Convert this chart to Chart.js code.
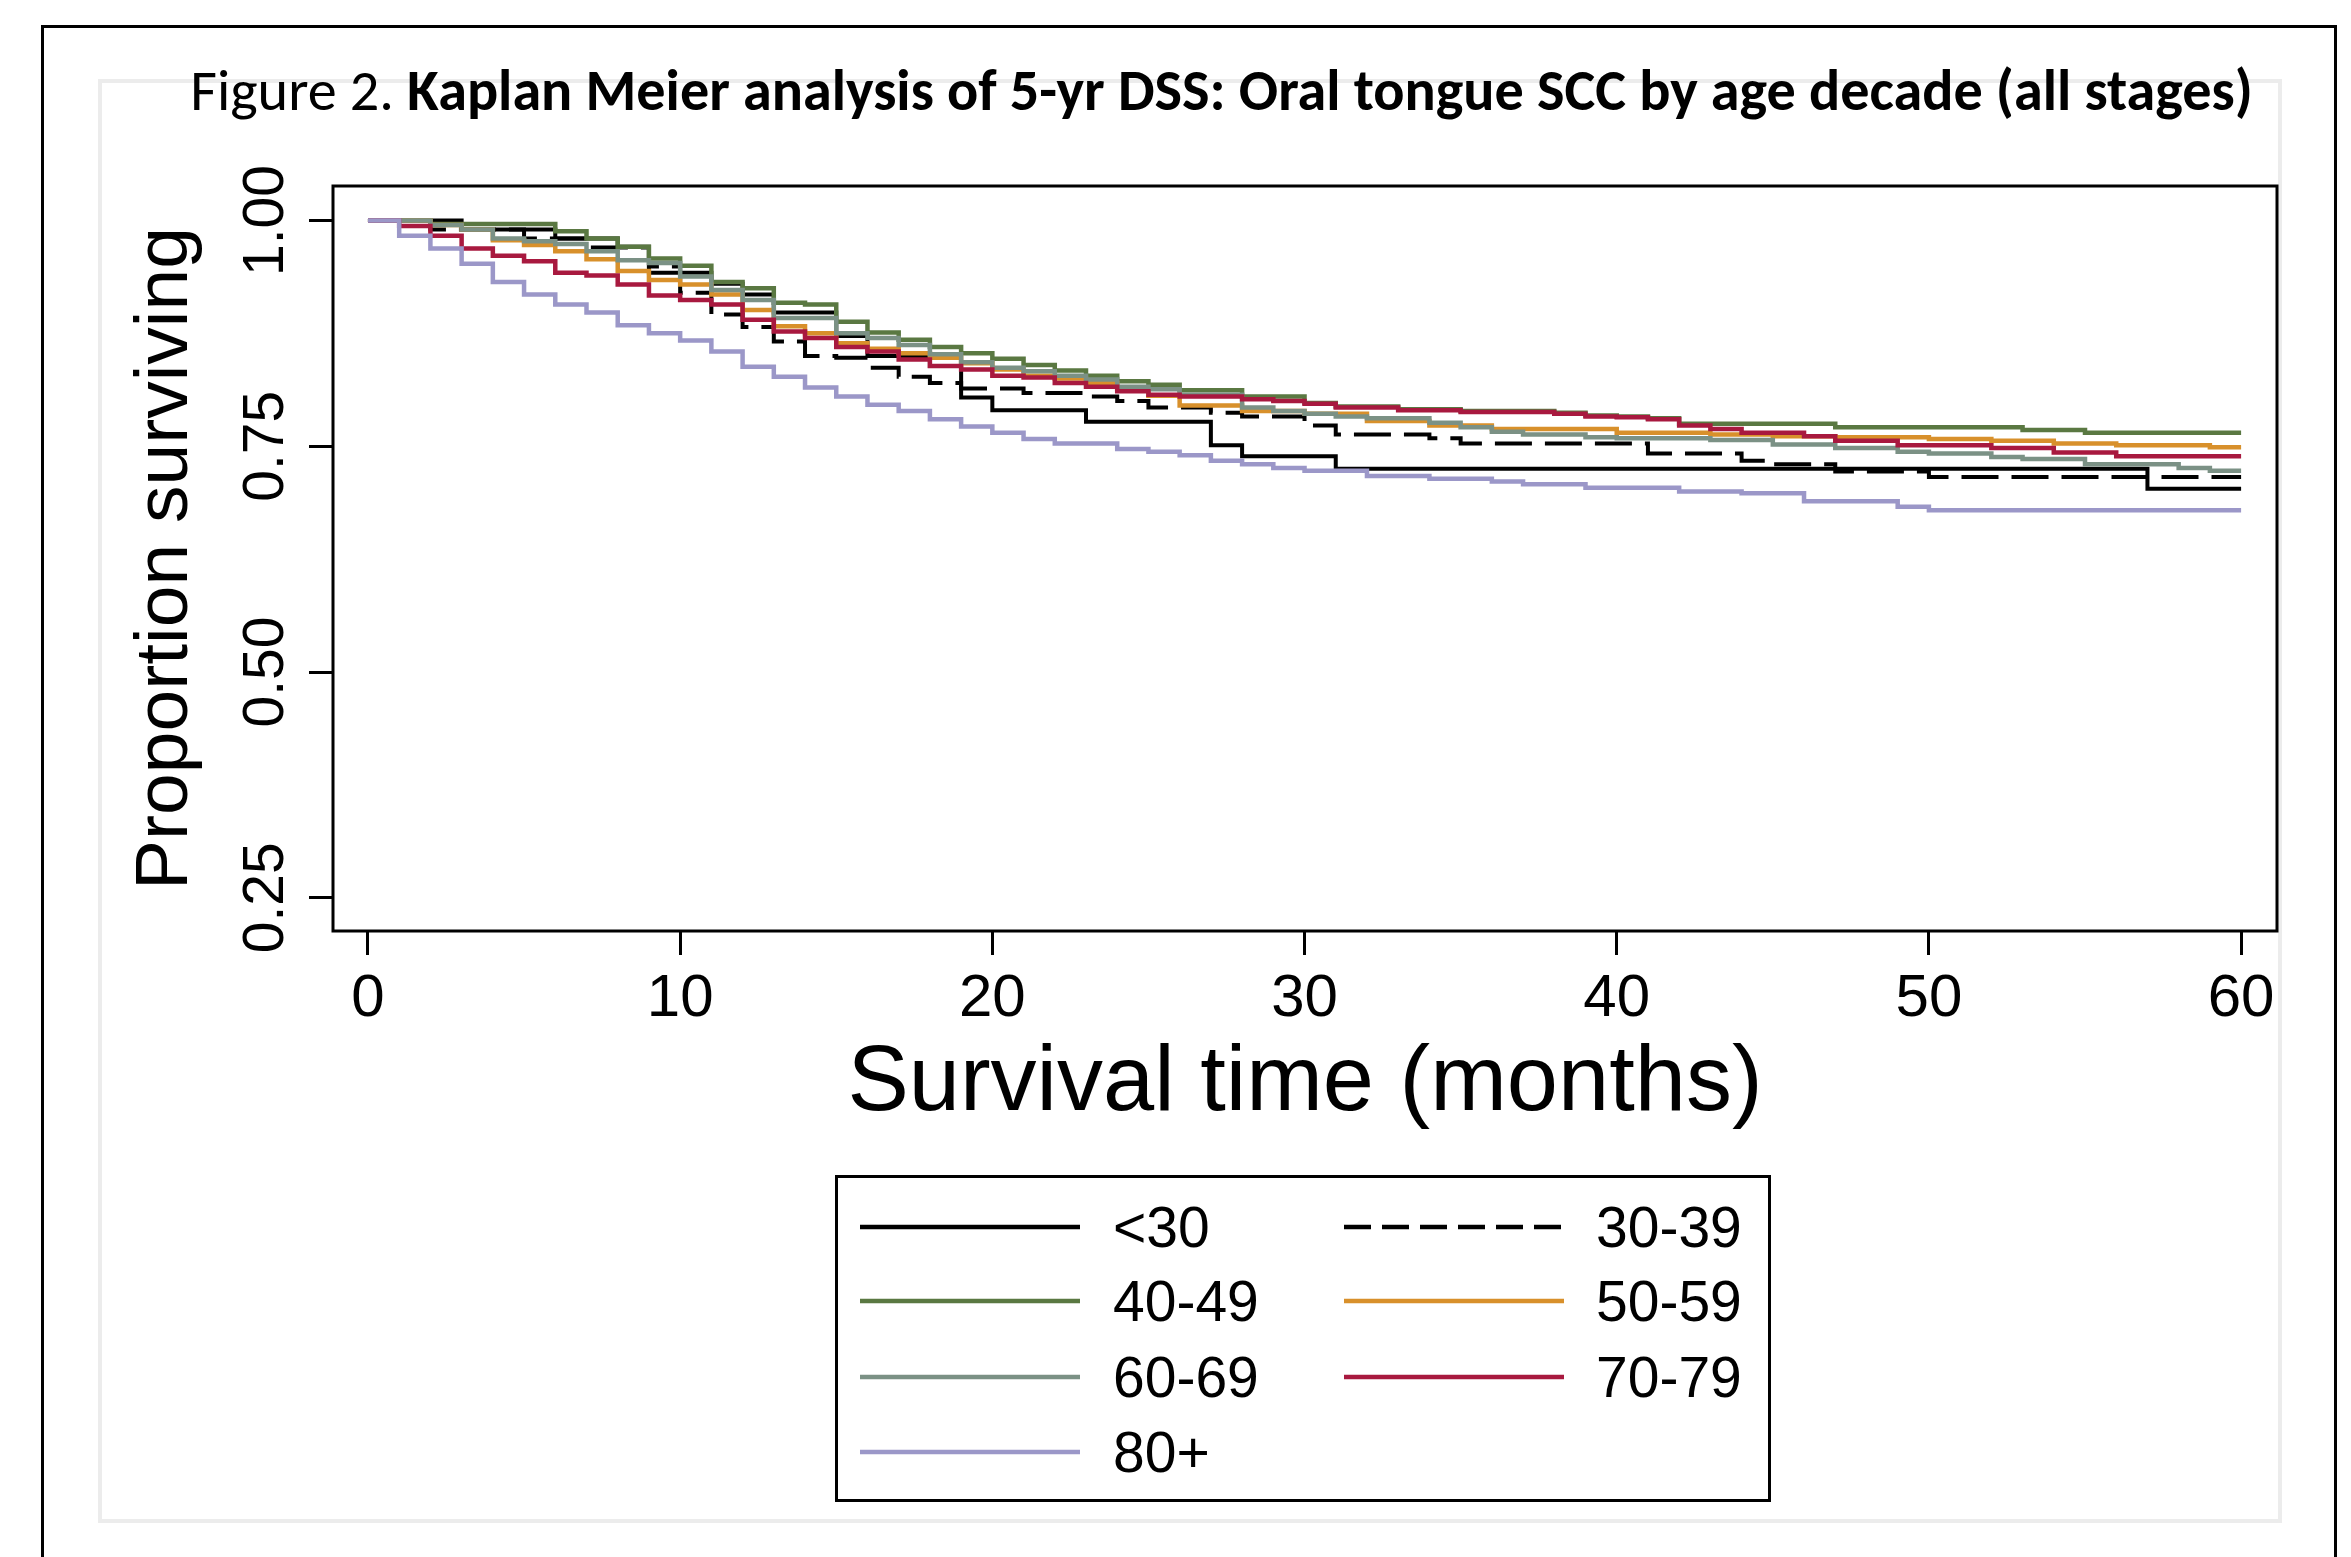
<!DOCTYPE html>
<html>
<head>
<meta charset="utf-8">
<script src="https://cdn.jsdelivr.net/npm/chart.js@4.4.1/dist/chart.umd.min.js"></script>
<style>
html,body{margin:0;padding:0;background:#fff;}
body{width:2351px;height:1557px;position:relative;overflow:hidden;}
#outer{position:absolute;left:41px;top:25px;width:2296px;height:1600px;border:3px solid #000;box-sizing:border-box;}
#panel{position:absolute;left:98px;top:79px;width:2184px;height:1444px;border:4px solid #ececec;box-sizing:border-box;background:#fff;}
#c{position:absolute;left:0;top:0;}
#title{position:absolute;left:0;top:0;white-space:nowrap;font-family:Carlito,Calibri,Lato,"Open Sans",sans-serif;color:#000;font-size:50px;line-height:1.2;}
#legend{position:absolute;left:835px;top:1175px;width:936px;height:327px;border:3px solid #000;box-sizing:border-box;background:#fff;}
#legend svg{position:absolute;left:0;top:0;}
.lg-item{position:absolute;font-family:"Liberation Sans",Arial,sans-serif;font-size:57px;line-height:57px;color:#000;white-space:nowrap;}
</style>
</head>
<body>
<div id="outer"></div>
<div id="panel"></div>
<canvas id="c" width="2351" height="1557" style="width:2351px;height:1557px;"></canvas>
<div id="title"><span style="font-weight:400">Figure 2. </span><span style="font-weight:700">Kaplan Meier analysis of 5-yr DSS: Oral tongue SCC by age decade (all stages)</span></div>
<div id="legend"></div>
<script>
// ---------- data ----------
const seriesNames = ['<30', '30-39', '40-49', '50-59', '60-69', '70-79', '80+'];

const monthsLt30 = [0, 3, 6, 8, 9, 11, 12, 13, 15, 16, 18, 19, 20, 23, 27, 28, 31, 57, 60];
const survLt30   = [1, 0.990, 0.980, 0.971, 0.942, 0.930, 0.918, 0.898, 0.872, 0.850, 0.839, 0.804, 0.790, 0.777, 0.751, 0.739, 0.725, 0.703, 0.703];

const months30s = [0, 2, 5, 7, 9, 10, 11, 12, 13, 14, 15, 16, 17, 18, 19, 21, 23, 24, 25, 27, 28, 30, 31, 34, 35, 41, 44, 45, 47, 50, 60];
const surv30s   = [1, 0.990, 0.980, 0.970, 0.949, 0.920, 0.896, 0.882, 0.866, 0.850, 0.848, 0.837, 0.827, 0.820, 0.814, 0.809, 0.805, 0.800, 0.793, 0.787, 0.783, 0.773, 0.763, 0.759, 0.753, 0.742, 0.734, 0.730, 0.722, 0.716, 0.716];

const months40s = [0, 2, 6, 7, 8, 9, 10, 11, 12, 13, 14, 15, 16, 17, 18, 19, 20, 21, 22, 23, 24, 25, 26, 28, 30, 31, 33, 35, 38, 39, 40, 41, 42, 47, 53, 55, 60];
const surv40s   = [1, 0.996, 0.988, 0.980, 0.971, 0.958, 0.950, 0.932, 0.925, 0.909, 0.907, 0.888, 0.876, 0.868, 0.860, 0.853, 0.847, 0.840, 0.834, 0.828, 0.822, 0.818, 0.812, 0.805, 0.798, 0.794, 0.791, 0.789, 0.787, 0.784, 0.783, 0.781, 0.775, 0.771, 0.768, 0.765, 0.765];

const months50s = [0, 2, 3, 4, 5, 6, 7, 8, 9, 10, 11, 12, 13, 14, 15, 16, 17, 18, 19, 20, 21, 22, 23, 24, 25, 26, 28, 30, 32, 34, 36, 40, 43, 45, 47, 50, 52, 54, 56, 59, 60];
const surv50s   = [1, 0.995, 0.990, 0.978, 0.973, 0.966, 0.957, 0.944, 0.934, 0.929, 0.918, 0.901, 0.883, 0.875, 0.864, 0.858, 0.853, 0.848, 0.842, 0.835, 0.828, 0.825, 0.820, 0.813, 0.806, 0.795, 0.789, 0.786, 0.778, 0.773, 0.769, 0.765, 0.763, 0.761, 0.760, 0.758, 0.756, 0.753, 0.751, 0.749, 0.749];

const months60s = [0, 2, 3, 4, 5, 6, 7, 8, 9, 10, 11, 12, 13, 15, 16, 17, 18, 19, 20, 21, 22, 23, 24, 25, 26, 28, 29, 30, 31, 32, 34, 35, 36, 37, 39, 40, 43, 45, 47, 49, 50, 52, 53, 55, 58, 59, 60];
const surv60s   = [1, 0.995, 0.990, 0.980, 0.977, 0.974, 0.966, 0.956, 0.953, 0.938, 0.923, 0.912, 0.892, 0.875, 0.870, 0.862, 0.852, 0.843, 0.837, 0.833, 0.828, 0.824, 0.816, 0.813, 0.807, 0.793, 0.789, 0.786, 0.783, 0.781, 0.776, 0.771, 0.766, 0.763, 0.760, 0.759, 0.757, 0.752, 0.748, 0.744, 0.742, 0.738, 0.736, 0.730, 0.726, 0.723, 0.723];

const months70s = [0, 1, 2, 3, 4, 5, 6, 7, 8, 9, 10, 11, 12, 13, 14, 15, 16, 17, 18, 19, 20, 21, 22, 23, 24, 25, 26, 28, 29, 30, 31, 33, 35, 38, 39, 40, 41, 42, 43, 44, 46, 47, 49, 52, 54, 56, 60];
const surv70s   = [1, 0.994, 0.983, 0.969, 0.961, 0.955, 0.942, 0.939, 0.929, 0.917, 0.912, 0.907, 0.890, 0.877, 0.870, 0.860, 0.855, 0.846, 0.839, 0.835, 0.828, 0.826, 0.820, 0.816, 0.811, 0.807, 0.805, 0.802, 0.800, 0.797, 0.793, 0.790, 0.788, 0.786, 0.783, 0.782, 0.780, 0.773, 0.769, 0.765, 0.761, 0.756, 0.751, 0.748, 0.743, 0.739, 0.739];

const months80 = [0, 1, 2, 3, 4, 5, 6, 7, 8, 9, 10, 11, 12, 13, 14, 15, 16, 17, 18, 19, 20, 21, 22, 24, 25, 26, 27, 28, 29, 30, 32, 34, 36, 37, 39, 42, 44, 46, 49, 50, 60];
const surv80   = [1, 0.983, 0.969, 0.952, 0.932, 0.918, 0.907, 0.898, 0.884, 0.875, 0.867, 0.855, 0.838, 0.827, 0.815, 0.805, 0.796, 0.789, 0.780, 0.772, 0.765, 0.758, 0.753, 0.747, 0.744, 0.740, 0.734, 0.730, 0.726, 0.723, 0.717, 0.714, 0.711, 0.708, 0.704, 0.700, 0.698, 0.689, 0.683, 0.679, 0.679];

const xTickValues = [0, 10, 20, 30, 40, 50, 60];
const yTickValues = [0.25, 0.50, 0.75, 1.00];

// ---------- styles ----------
const seriesMonths = [monthsLt30, months30s, months40s, months50s, months60s, months70s, months80];
const seriesSurv   = [survLt30, surv30s, surv40s, surv50s, surv60s, surv70s, surv80];
const seriesColors = ['#000000', '#000000', '#5a7842', '#d8902b', '#7b9185', '#a8193f', '#9b97c8'];
const seriesDash   = [[], [37, 13], [], [], [], [], []];
const legendDash   = [[], [27, 11], [], [], [], [], []];
const seriesWidth  = [4, 4, 4.5, 4.5, 4.5, 4.5, 4.5];

const datasets = seriesNames.map((name, i) => ({
  label: name,
  data: seriesMonths[i].map((m, j) => ({ x: m, y: seriesSurv[i][j] })),
  borderColor: seriesColors[i],
  backgroundColor: seriesColors[i],
  borderWidth: seriesWidth[i],
  borderDash: seriesDash[i],
  stepped: true,
  pointRadius: 0,
  fill: false,
  order: seriesNames.length - i
}));

const framePlugin = {
  id: 'frame',
  afterDatasetsDraw(chart) {
    const { ctx, chartArea: a } = chart;
    ctx.save();
    ctx.strokeStyle = '#000';
    ctx.lineWidth = 3;
    ctx.setLineDash([]);
    ctx.strokeRect(a.left, a.top, a.right - a.left, a.bottom - a.top);
    ctx.restore();
  }
};

const axisFont = '"Liberation Sans", Arial, sans-serif';

new Chart(document.getElementById('c'), {
  type: 'line',
  data: { datasets },
  plugins: [framePlugin],
  options: {
    responsive: false,
    animation: false,
    devicePixelRatio: 1,
    layout: { padding: { left: 100, top: 186, right: 74, bottom: 426 } },
    plugins: { legend: { display: false }, title: { display: false }, tooltip: { enabled: false } },
    elements: { line: { tension: 0 }, point: { radius: 0 } },
    scales: {
      x: {
        type: 'linear',
        min: -1.12,
        max: 61.15,
        afterBuildTicks: (s) => { s.ticks = xTickValues.map(v => ({ value: v })); },
        afterFit: (s) => { s.height = 200; },
        border: { display: false },
        grid: { display: true, drawOnChartArea: false, drawTicks: true, tickLength: 24, tickWidth: 3, tickColor: '#000' },
        ticks: { color: '#000', font: { family: axisFont, size: 60, lineHeight: 1 }, padding: 14, maxRotation: 0, minRotation: 0, autoSkip: false, callback: (v) => String(v) },
        title: { display: true, text: 'Survival time (months)', color: '#000', font: { family: axisFont, size: 92, lineHeight: 1 }, padding: { top: 0, bottom: 0 } }
      },
      y: {
        type: 'linear',
        min: 0.2132,
        max: 1.0382,
        afterBuildTicks: (s) => { s.ticks = yTickValues.map(v => ({ value: v })); },
        afterFit: (s) => { s.width = 233; },
        border: { display: false },
        grid: { display: true, drawOnChartArea: false, drawTicks: true, tickLength: 24, tickWidth: 3, tickColor: '#000' },
        ticks: { color: '#000', font: { family: axisFont, size: 57, lineHeight: 1 }, padding: -14, minRotation: 90, maxRotation: 90, crossAlign: 'center', autoSkip: false, callback: (v) => Number(v).toFixed(2) },
        title: { display: true, text: 'Proportion surviving', color: '#000', font: { family: axisFont, size: 75, lineHeight: 1 }, padding: { top: 29, bottom: 0 } }
      }
    }
  }
});

// ---------- title (mixed weight) ----------
(function () {
  const t = document.getElementById('title');
  const w = t.getBoundingClientRect().width;
  const fs = 50 * 2063 / w;
  t.style.fontSize = fs + 'px';
  const w2 = t.getBoundingClientRect().width;
  t.style.left = (1221.5 - w2 / 2) + 'px';
  const probe = document.createElement('span');
  probe.style.cssText = 'display:inline-block;width:0;height:0;vertical-align:baseline;';
  t.appendChild(probe);
  const base = probe.getBoundingClientRect().top - t.getBoundingClientRect().top;
  t.style.top = (110 - base) + 'px';
})();

// ---------- legend (built from the series) ----------
(function () {
  const lg = document.getElementById('legend');
  const ox = 838, oy = 1178;
  const rowsY = [1227, 1301, 1377, 1452];
  const colLineX = [[860, 1080], [1344, 1564]];
  const colTextX = [1113, 1596];
  const ns = 'http://www.w3.org/2000/svg';
  const svg = document.createElementNS(ns, 'svg');
  svg.setAttribute('width', 930);
  svg.setAttribute('height', 321);
  lg.appendChild(svg);
  seriesNames.forEach((name, i) => {
    const row = Math.floor(i / 2), col = i % 2;
    const cy = rowsY[row] - oy;
    const ln = document.createElementNS(ns, 'line');
    ln.setAttribute('x1', colLineX[col][0] - ox);
    ln.setAttribute('x2', colLineX[col][1] - ox);
    ln.setAttribute('y1', cy);
    ln.setAttribute('y2', cy);
    ln.setAttribute('stroke', seriesColors[i]);
    ln.setAttribute('stroke-width', 4.5);
    if (legendDash[i].length) ln.setAttribute('stroke-dasharray', legendDash[i].join(' '));
    svg.appendChild(ln);
    const tx = document.createElement('div');
    tx.className = 'lg-item';
    tx.textContent = name;
    tx.style.left = (colTextX[col] - ox) + 'px';
    tx.style.top = (cy - 28) + 'px';
    lg.appendChild(tx);
  });
})();
</script>
</body>
</html>
